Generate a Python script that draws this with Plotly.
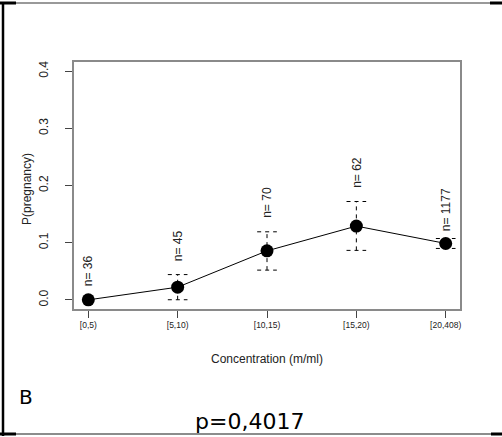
import plotly.graph_objects as go

# ---- data ----
categories = ["[0,5)", "[5,10)", "[10,15)", "[15,20)", "[20,408)"]
p_pregnancy = [0.0, 0.0222, 0.0857, 0.129, 0.0986]
ci_low = [0.0, 0.0002, 0.052, 0.0865, 0.0899]
ci_high = [0.0, 0.0442, 0.119, 0.172, 0.1073]
n_labels = ["n= 36", "n= 45", "n= 70", "n= 62", "n= 1177"]
y_tick_vals = [0.0, 0.1, 0.2, 0.3, 0.4]
y_tick_text = ["0.0", "0.1", "0.2", "0.3", "0.4"]

# ---- layout geometry (pixels) ----
W, H = 502, 437
PL, PR, PT, PB = 74, 460, 62, 309
ARIAL = "Liberation Sans, Arial, sans-serif"
VERDANA = "DejaVu Sans, Verdana, sans-serif"
TXT = "#222222"


def fx(px):
    return (px - PL) / (PR - PL)


def fy(py):
    return (PB - py) / (PB - PT)


xpos = list(range(len(categories)))
cap = 0.11  # cap half-width in category units

# dashed error bars built from the data
ex, ey = [], []
for i, lo, hi in zip(xpos, ci_low, ci_high):
    if hi - lo <= 0:
        continue
    ex += [i, i, None, i - cap, i + cap, None, i - cap, i + cap, None]
    ey += [lo, hi, None, hi, hi, None, lo, lo, None]

fig = go.Figure()
fig.add_trace(go.Scatter(
    x=ex, y=ey, mode="lines",
    line=dict(color="black", width=1, dash="4px,4px"),
    hoverinfo="skip", showlegend=False,
))
fig.add_trace(go.Scatter(
    x=xpos, y=p_pregnancy, mode="lines+markers",
    line=dict(color="black", width=1),
    marker=dict(color="black", size=13),
    showlegend=False,
))

annotations = []
for i, hi, lab in zip(xpos, ci_high, n_labels):
    annotations.append(dict(
        x=i, y=hi, xref="x", yref="y", text=lab, textangle=-90,
        showarrow=False, yshift=29, xanchor="center", yanchor="middle",
        font=dict(family=ARIAL, size=12, color=TXT),
    ))

# axis titles
annotations.append(dict(
    x=fx(267), y=fy(359), xref="paper", yref="paper", text="Concentration (m/ml)",
    showarrow=False, xanchor="center", yanchor="middle",
    font=dict(family=ARIAL, size=12, color=TXT),
))
annotations.append(dict(
    x=fx(27), y=fy(189), xref="paper", yref="paper", text="P(pregnancy)",
    showarrow=False, textangle=-90, xanchor="center", yanchor="middle",
    font=dict(family=ARIAL, size=12, color=TXT),
))
# panel letter and p-value
annotations.append(dict(
    x=fx(17), y=fy(397), xref="paper", yref="paper", text="B",
    showarrow=False, xanchor="left", yanchor="middle",
    font=dict(family=VERDANA, size=20, color="black"),
))
annotations.append(dict(
    x=fx(249), y=fy(421), xref="paper", yref="paper", text="p=0,4017",
    showarrow=False, xanchor="center", yanchor="middle",
    font=dict(family=VERDANA, size=22, color="black"),
))

# outer border fragments
shapes = [
    dict(type="line", xref="paper", yref="paper", x0=fx(16), x1=fx(490), y0=fy(3), y1=fy(3),
         line=dict(color="#777777", width=1.5)),
    dict(type="line", xref="paper", yref="paper", x0=fx(0), x1=fx(16), y0=fy(3), y1=fy(3),
         line=dict(color="black", width=3)),
    dict(type="line", xref="paper", yref="paper", x0=fx(490), x1=fx(502), y0=fy(3), y1=fy(3),
         line=dict(color="black", width=3)),
    dict(type="line", xref="paper", yref="paper", x0=fx(16), x1=fx(491), y0=fy(434), y1=fy(434),
         line=dict(color="#666666", width=1.5)),
    dict(type="line", xref="paper", yref="paper", x0=fx(0), x1=fx(16), y0=fy(434), y1=fy(434),
         line=dict(color="black", width=3)),
    dict(type="line", xref="paper", yref="paper", x0=fx(491), x1=fx(502), y0=fy(434), y1=fy(434),
         line=dict(color="black", width=3)),
    dict(type="line", xref="paper", yref="paper", x0=fx(3), x1=fx(3), y0=fy(2), y1=fy(436),
         line=dict(color="black", width=2.5)),
]

fig.update_layout(
    width=W, height=H,
    margin=dict(l=PL, r=W - PR, t=PT, b=H - PB, pad=0),
    paper_bgcolor="white", plot_bgcolor="white",
    showlegend=False,
    annotations=annotations,
    shapes=shapes,
    xaxis=dict(
        range=[-0.16, 4.16], tickmode="array", tickvals=xpos, ticktext=categories,
        showgrid=False, zeroline=False, showline=True, mirror=True,
        linecolor="#8a8a8a", linewidth=1.5,
        ticks="outside", ticklen=7, tickcolor="#444444", tickwidth=1,
        tickfont=dict(family=ARIAL, size=8.5, color=TXT),
    ),
    yaxis=dict(
        range=[-0.016, 0.416], tickmode="array", tickvals=y_tick_vals, ticktext=y_tick_text,
        showgrid=False, zeroline=False, showline=True, mirror=True,
        linecolor="#8a8a8a", linewidth=1.5,
        ticks="outside", ticklen=7, tickcolor="#444444", tickwidth=1,
        tickangle=-90, ticklabelstandoff=12,
        tickfont=dict(family=ARIAL, size=12, color=TXT),
    ),
)

fig.write_html(
    "out.html",
    config={"displayModeBar": False},
    post_script="document.body.style.margin='0';document.body.style.padding='0';",
)
